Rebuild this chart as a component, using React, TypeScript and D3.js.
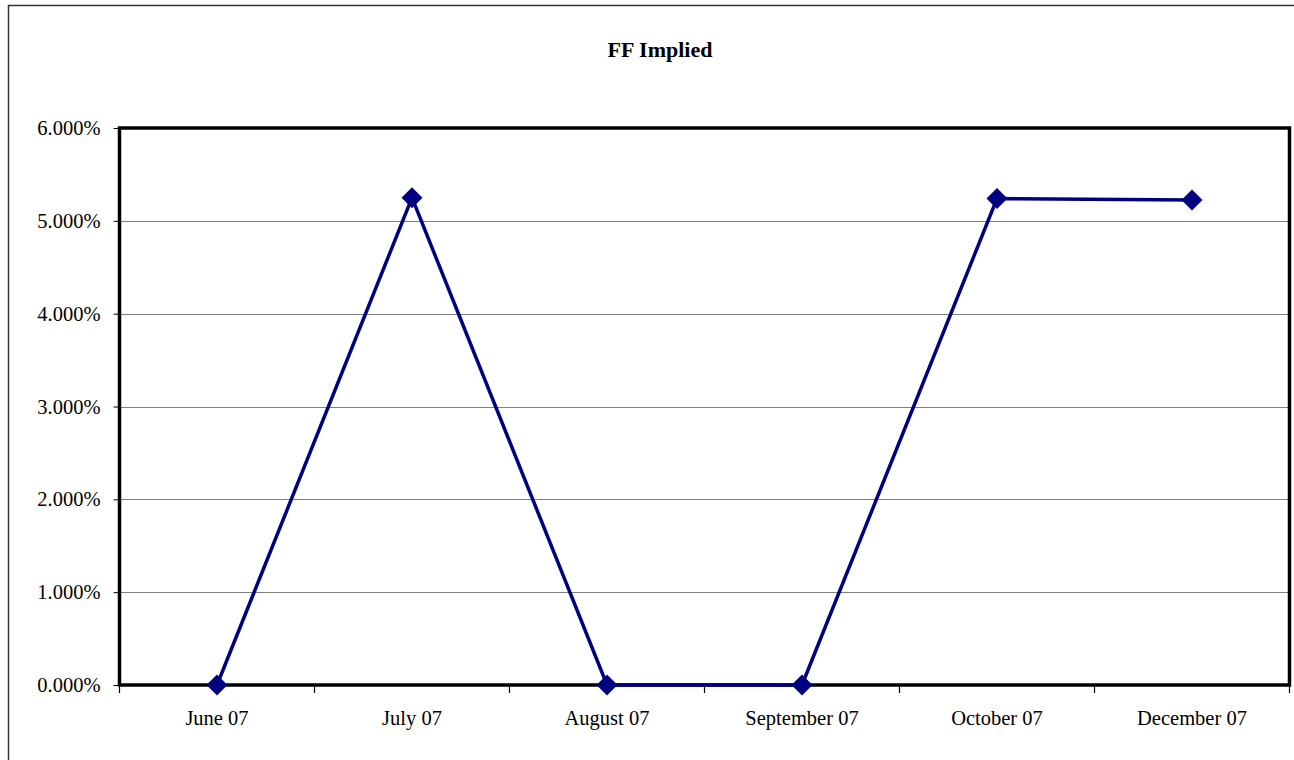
import { useEffect, useRef } from "react";
import * as d3 from "d3";

// chart data
const categories = ["June 07", "July 07", "August 07", "September 07", "October 07", "December 07"];
const values = [0, 5.25, 0, 0, 5.24, 5.225];
const yTicks = [0, 1, 2, 3, 4, 5, 6];
const title = "FF Implied";

const W = 1294;
const H = 760;
const FONT = "'Liberation Serif', 'DejaVu Serif', serif";

export default function App() {
  const ref = useRef<SVGSVGElement>(null);

  useEffect(() => {
    if (!ref.current) return;
    const svg = d3.select(ref.current);
    svg.selectAll("*").remove();

    const margin = { top: 128, right: 4.5, bottom: 75, left: 119.5 };

    // outer chart frame (right/bottom edges fall off the page)
    svg.append("rect")
      .attr("x", 8.5).attr("y", 5.5)
      .attr("width", W + 10).attr("height", H + 10)
      .attr("fill", "white")
      .attr("stroke", "#333").attr("stroke-width", 1.5);

    svg.append("text")
      .attr("x", 660).attr("y", 57)
      .attr("text-anchor", "middle")
      .attr("font-family", FONT)
      .attr("font-weight", "bold")
      .attr("font-size", 22)
      .text(title);

    const x = d3.scaleBand<string>()
      .domain(categories)
      .range([margin.left, W - margin.right]);

    const y = d3.scaleLinear()
      .domain([0, 6])
      .range([H - margin.bottom, margin.top]);

    // gridlines
    svg.append("g")
      .selectAll("line")
      .data(yTicks.filter(t => t > 0 && t < 6))
      .join("line")
      .attr("x1", margin.left).attr("x2", W - margin.right)
      .attr("y1", d => Math.round(y(d)) + 0.5).attr("y2", d => Math.round(y(d)) + 0.5)
      .attr("stroke", "#808080").attr("stroke-width", 1);

    // y axis
    const yAxis = svg.append("g")
      .attr("transform", `translate(${margin.left},0)`)
      .call(d3.axisLeft(y).tickValues(yTicks).tickSize(6).tickPadding(13)
        .tickFormat(d => `${(+d).toFixed(3)}%`));
    yAxis.select(".domain").remove();
    yAxis.selectAll(".tick line").attr("stroke", "black").attr("stroke-width", 1);
    yAxis.selectAll("text")
      .attr("font-family", FONT).attr("font-size", 20.5).attr("fill", "black");

    // x axis: ticks at category boundaries
    const bounds = [...categories.map(c => x(c)!), x(categories[categories.length - 1])! + x.bandwidth()];
    svg.append("g")
      .selectAll("line")
      .data(bounds)
      .join("line")
      .attr("x1", d => d).attr("x2", d => d)
      .attr("y1", y(0)).attr("y2", y(0) + 8)
      .attr("stroke", "black").attr("stroke-width", 1.2);

    svg.append("g")
      .selectAll("text")
      .data(categories)
      .join("text")
      .attr("x", d => x(d)! + x.bandwidth() / 2)
      .attr("y", y(0) + 40)
      .attr("text-anchor", "middle")
      .attr("font-family", FONT).attr("font-size", 20.5)
      .text(d => d);

    // plot frame
    svg.append("rect")
      .attr("x", margin.left).attr("y", margin.top)
      .attr("width", W - margin.right - margin.left)
      .attr("height", H - margin.bottom - margin.top)
      .attr("fill", "none")
      .attr("stroke", "black").attr("stroke-width", 3.5);

    const pts = categories.map((c, i) => ({ c, v: values[i] }));

    const line = d3.line<{ c: string; v: number }>()
      .x(d => x(d.c)! + x.bandwidth() / 2)
      .y(d => y(d.v));

    svg.append("path")
      .datum(pts)
      .attr("d", line)
      .attr("fill", "none")
      .attr("stroke", "#000080")
      .attr("stroke-width", 3.5);

    const r = 10.5;
    svg.append("g")
      .selectAll("path")
      .data(pts)
      .join("path")
      .attr("transform", d => `translate(${x(d.c)! + x.bandwidth() / 2},${y(d.v)})`)
      .attr("d", `M0,${-r}L${r},0L0,${r}L${-r},0Z`)
      .attr("fill", "#000080");
  }, []);

  return (
    <svg
      ref={ref}
      width={W}
      height={H}
      style={{ position: "absolute", left: 0, top: 0, display: "block" }}
    />
  );
}
